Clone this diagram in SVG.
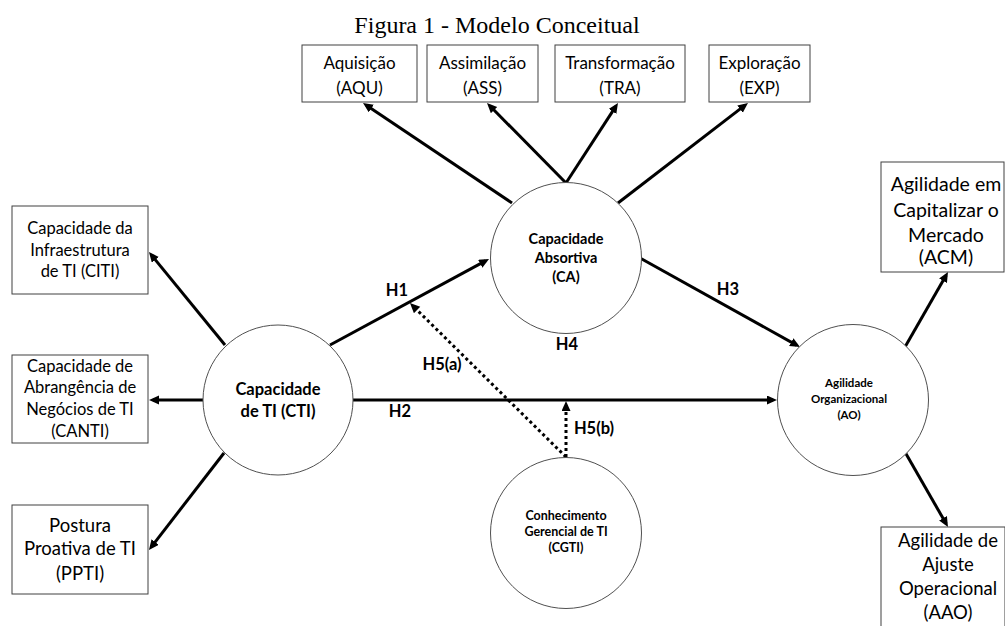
<svg xmlns="http://www.w3.org/2000/svg" width="1005" height="626" viewBox="0 0 1005 626">
<style>
.box{fill:#fff;stroke:#404040;stroke-width:1}
.circ{fill:#fff;stroke:#505050;stroke-width:1}
.t{font-family:Lato,"Liberation Sans",sans-serif;fill:#000;text-anchor:middle}
.b{font-weight:bold}
.lbl{font-family:Lato,"Liberation Sans",sans-serif;font-weight:bold;font-size:16.5px;fill:#000;text-anchor:middle}
.ln{stroke:#000;stroke-width:3;fill:none;marker-end:url(#ah)}
.dot{stroke:#000;stroke-width:3;fill:none;stroke-dasharray:3 3;marker-end:url(#ah)}
</style>
<defs>
<marker id="ah" markerUnits="userSpaceOnUse" markerWidth="11" markerHeight="10" refX="6" refY="4.5" orient="auto">
<path d="M0,0 L10,4.5 L0,9 z" fill="#000"/>
</marker>
</defs>
<rect width="1005" height="626" fill="#fff"/>
<text x="497" y="33" font-family="Liberation Serif,serif" font-size="24" text-anchor="middle">Figura 1 - Modelo Conceitual</text>

<g id="connectors">
<line class="ln" x1="512" y1="203" x2="366.3" y2="105.2"/>
<line class="ln" x1="566" y1="183" x2="489.8" y2="105.8"/>
<line class="ln" x1="566" y1="183" x2="615.8" y2="106.4"/>
<line class="ln" x1="618" y1="203" x2="744.8" y2="105.4"/>
<line class="ln" x1="225" y1="345" x2="151.5" y2="255.1"/>
<line class="ln" x1="203" y1="400" x2="153" y2="400"/>
<line class="ln" x1="224" y1="453" x2="151.4" y2="546.8"/>
<line class="ln" x1="330" y1="345" x2="485.5" y2="260.9"/>
<line class="ln" x1="353" y1="400" x2="773" y2="400"/>
<line class="ln" x1="640" y1="258" x2="796.5" y2="345.1"/>
<line class="ln" x1="905" y1="347" x2="946" y2="275.5"/>
<line class="ln" x1="905" y1="452" x2="946" y2="523.5"/>
<line class="dot" x1="566" y1="457" x2="412.8" y2="305.8"/>
<line class="dot" x1="566" y1="457" x2="566" y2="405"/>
<text class="lbl" x="397" y="296">H1</text>
<text class="lbl" x="400" y="417">H2</text>
<text class="lbl" x="728" y="295">H3</text>
<text class="lbl" x="567" y="350">H4</text>
<text class="lbl" x="442" y="370">H5(a)</text>
<text class="lbl" x="594" y="434">H5(b)</text>
</g>

<g id="aqu">
<rect class="box" x="302" y="45" width="115" height="57"/>
<text class="t" font-size="17" x="359.5" y="69">Aquisição</text>
<text class="t" font-size="17" x="359.5" y="94">(AQU)</text>
</g>
<g id="ass">
<rect class="box" x="427" y="45" width="111" height="57"/>
<text class="t" font-size="17" x="482.5" y="69">Assimilação</text>
<text class="t" font-size="17" x="482.5" y="94">(ASS)</text>
</g>
<g id="tra">
<rect class="box" x="555" y="45" width="130" height="57"/>
<text class="t" font-size="17" x="620" y="69">Transformação</text>
<text class="t" font-size="17" x="620" y="94">(TRA)</text>
</g>
<g id="exp">
<rect class="box" x="709" y="45" width="101" height="57"/>
<text class="t" font-size="17" x="759.5" y="69">Exploração</text>
<text class="t" font-size="17" x="759.5" y="94">(EXP)</text>
</g>

<g id="citi">
<rect class="box" x="12" y="206" width="136" height="88"/>
<text class="t" font-size="16.5" x="80" y="234">Capacidade da</text>
<text class="t" font-size="16.5" x="80" y="256">Infraestrutura</text>
<text class="t" font-size="16.5" x="80" y="277">de TI (CITI)</text>
</g>
<g id="canti">
<rect class="box" x="12" y="355" width="136" height="88"/>
<text class="t" font-size="16.5" x="80" y="372">Capacidade de</text>
<text class="t" font-size="16.5" x="80" y="393">Abrangência de</text>
<text class="t" font-size="16.5" x="80" y="415">Negócios de TI</text>
<text class="t" font-size="16.5" x="80" y="437">(CANTI)</text>
</g>
<g id="ppti">
<rect class="box" x="12" y="505" width="136" height="89"/>
<text class="t" font-size="18.5" x="80" y="532">Postura</text>
<text class="t" font-size="18.5" x="80" y="555">Proativa de TI</text>
<text class="t" font-size="18.5" x="80" y="580">(PPTI)</text>
</g>

<g id="ca">
<circle class="circ" cx="566" cy="258" r="75.5"/>
<text class="t b" font-size="14.5" x="566" y="244">Capacidade</text>
<text class="t b" font-size="14.5" x="566" y="263">Absortiva</text>
<text class="t b" font-size="14.5" x="566" y="282">(CA)</text>
</g>
<g id="cti">
<circle class="circ" cx="278" cy="400" r="75"/>
<text class="t b" font-size="16.5" x="278" y="395">Capacidade</text>
<text class="t b" font-size="16.5" x="278" y="417">de TI (CTI)</text>
</g>
<g id="cgti">
<circle class="circ" cx="566" cy="533" r="75.5"/>
<text class="t b" font-size="12.5" x="566" y="520">Conhecimento</text>
<text class="t b" font-size="12.5" x="566" y="536">Gerencial de TI</text>
<text class="t b" font-size="12.5" x="566" y="552">(CGTI)</text>
</g>
<g id="ao">
<circle class="circ" cx="853" cy="400" r="75.5"/>
<text class="t b" font-size="11.5" x="849" y="387">Agilidade</text>
<text class="t b" font-size="11.5" x="849" y="403">Organizacional</text>
<text class="t b" font-size="11.5" x="849" y="419">(AO)</text>
</g>

<g id="acm">
<rect class="box" x="881" y="162" width="123" height="110"/>
<text class="t" font-size="19.5" x="946" y="191">Agilidade em</text>
<text class="t" font-size="19.5" x="946" y="217">Capitalizar o</text>
<text class="t" font-size="19.5" x="946" y="242">Mercado</text>
<text class="t" font-size="19.5" x="946" y="264">(ACM)</text>
</g>
<g id="aao">
<rect class="box" x="881" y="527" width="124" height="120"/>
<text class="t" font-size="18.5" x="948" y="547">Agilidade de</text>
<text class="t" font-size="18.5" x="948" y="571">Ajuste</text>
<text class="t" font-size="18.5" x="948" y="595">Operacional</text>
<text class="t" font-size="18.5" x="948" y="619">(AAO)</text>
</g>
</svg>
